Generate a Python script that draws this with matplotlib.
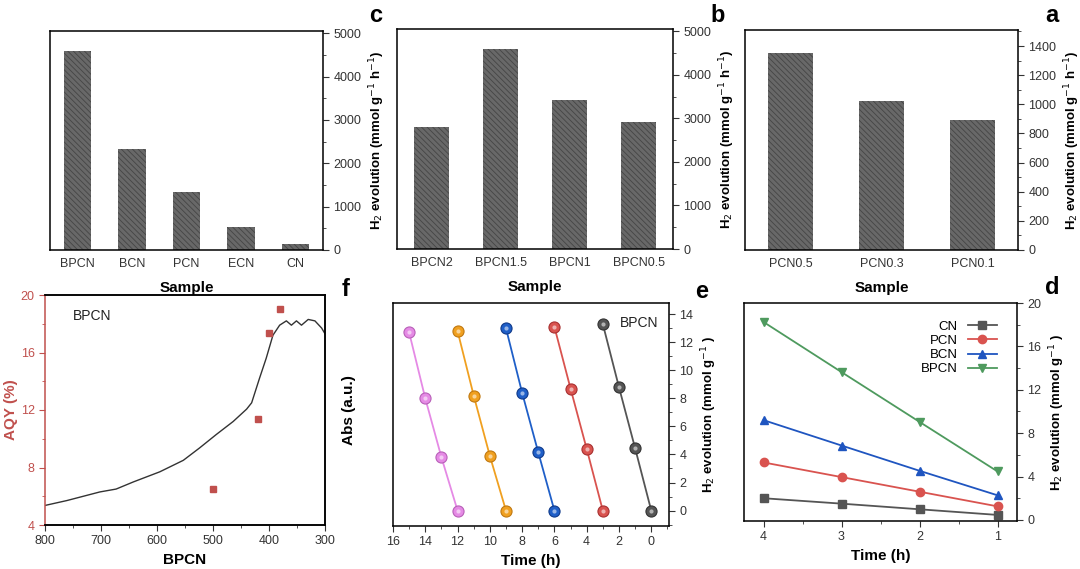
import matplotlib
matplotlib.use("Agg")
import matplotlib.pyplot as plt
from matplotlib.ticker import MultipleLocator
import numpy as np

plt.rcParams['font.family'] = ['Liberation Sans', 'DejaVu Sans']
plt.rcParams['hatch.linewidth'] = 0.6
plt.rcParams['axes.linewidth'] = 1.1

# ---------------- data ----------------
a_samples = ["PCN0.1", "PCN0.3", "PCN0.5"]
a_values = [892, 1023, 1352]

b_samples = ["BPCN0.5", "BPCN1", "BPCN1.5", "BPCN2"]
b_values = [2910, 3430, 4580, 2800]

c_samples = ["CN", "ECN", "PCN", "BCN", "BPCN"]
c_values = [140, 520, 1340, 2320, 4580]

d_time = [1, 2, 3, 4]
d_CN = [0.46, 0.98, 1.5, 2.0]
d_PCN = [1.25, 2.6, 3.95, 5.3]
d_BCN = [2.27, 4.53, 6.86, 9.2]
d_BPCN = [4.47, 9.04, 13.63, 18.25]

e_time_c1 = [0, 1, 2, 3]
e_time_c2 = [3, 4, 5, 6]
e_time_c3 = [6, 7, 8, 9]
e_time_c4 = [9, 10, 11, 12]
e_time_c5 = [12, 13, 14, 15]
e_h2_c1 = [0, 4.45, 8.8, 13.3]
e_h2_c2 = [0, 4.4, 8.7, 13.1]
e_h2_c3 = [0, 4.15, 8.4, 13.0]
e_h2_c4 = [0, 3.9, 8.2, 12.8]
e_h2_c5 = [0, 3.8, 8.0, 12.7]

f_wl = [800, 761, 702, 673, 642, 595, 553, 524, 494, 464, 440, 431, 417, 405,
        393, 381, 369, 360, 351, 342, 330, 318, 306, 300]
f_abs = [5.36, 5.7, 6.3, 6.5, 7.0, 7.7, 8.5, 9.36, 10.3, 11.2, 12.06, 12.5, 14.2,
         15.6, 17.2, 17.9, 18.2, 17.9, 18.2, 17.9, 18.3, 18.2, 17.7, 17.3]
f_aqy_wl = [500, 420, 400, 380]
f_aqy = [6.5, 11.4, 17.35, 19.06]

# ---------------- figure ----------------
fig = plt.figure(figsize=(10.8, 5.69), dpi=100)
W, H = 1080, 569

def ax_px(l, r, t, b):
    return fig.add_axes([l / W, 1 - b / H, (r - l) / W, (b - t) / H])

TICK_FS = 9
LAB_FS = 11
YLAB_FS = 9.5
YLAB = r"H$_2$ evolution (mmol g$^{-1}$ h$^{-1}$)"

def right_axis(ax):
    ax.yaxis.tick_right()
    ax.yaxis.set_label_position("right")
    ax.tick_params(axis='both', which='both', direction='out', labelsize=TICK_FS,
                   colors='#333333')
    ax.tick_params(which='major', length=4)
    ax.tick_params(which='minor', length=2)

def bar_panel(ax, cats, vals, ymax, major, minor, letter, lx):
    x = np.arange(len(cats))
    ax.bar(x, vals, width=0.5, color='#686868', edgecolor='#454545',
           hatch='\\\\\\\\\\\\', linewidth=0)
    ax.set_xticks(x)
    ax.set_xticklabels(cats)
    ax.set_xlim(len(cats) - 0.5, -0.5)
    ax.set_ylim(0, ymax)
    ax.yaxis.set_major_locator(MultipleLocator(major))
    ax.yaxis.set_minor_locator(MultipleLocator(minor))
    right_axis(ax)
    ax.tick_params(axis='x', length=0, pad=6)
    ax.set_xlabel("Sample", fontsize=LAB_FS, fontweight='bold', labelpad=8)
    ax.set_ylabel(YLAB, fontsize=YLAB_FS, fontweight='bold', rotation=90,
                  labelpad=4)
    fig.text(lx / W, 1 - 15 / H, letter, fontsize=17, fontweight='bold',
             ha='center', va='center')

ax_c = ax_px(50, 323, 31, 250)
bar_panel(ax_c, c_samples, c_values, 5050, 1000, 500, "c", 376)
ax_b = ax_px(397, 673, 29, 249)
bar_panel(ax_b, b_samples, b_values, 5050, 1000, 500, "b", 718)
ax_a = ax_px(745, 1018, 30, 250)
bar_panel(ax_a, a_samples, a_values, 1510, 200, 100, "a", 1052)

# ---------------- panel d ----------------
ax_d = ax_px(744, 1017, 303, 521)
d_series = [("CN", d_CN, 's', '#555555'), ("PCN", d_PCN, 'o', '#d9534f'),
            ("BCN", d_BCN, '^', '#1f55c0'), ("BPCN", d_BPCN, 'v', '#4e9a5e')]
for name, vals, mk, col in d_series:
    ax_d.plot(d_time, vals, marker=mk, color=col, lw=1.3, ms=6, label=name)
ax_d.set_xlim(4.25, 0.75)
ax_d.set_ylim(-0.1, 20)
ax_d.xaxis.set_major_locator(MultipleLocator(1))
ax_d.xaxis.set_minor_locator(MultipleLocator(0.5))
ax_d.yaxis.set_major_locator(MultipleLocator(4))
ax_d.yaxis.set_minor_locator(MultipleLocator(2))
right_axis(ax_d)
ax_d.set_xlabel("Time (h)", fontsize=LAB_FS, fontweight='bold', labelpad=4)
ax_d.set_ylabel(r"H$_2$ evolution (mmol g$^{-1}$ )", fontsize=YLAB_FS,
                fontweight='bold', rotation=90, labelpad=4)
ax_d.legend(loc='upper right', frameon=False, markerfirst=False, fontsize=9.5,
            handlelength=2.2, labelspacing=0.15, borderaxespad=0.6,
            bbox_to_anchor=(0.975, 0.98))
fig.text(1052 / W, 1 - 288 / H, "d", fontsize=17, fontweight='bold',
         ha='center', va='center')

# ---------------- panel e ----------------
ax_e = ax_px(393, 669, 303, 526)
e_series = [(e_time_c1, e_h2_c1, '#555555', '#333333'),
            (e_time_c2, e_h2_c2, '#d9534f', '#a83030'),
            (e_time_c3, e_h2_c3, '#1f5fc8', '#103a8a'),
            (e_time_c4, e_h2_c4, '#f0a020', '#c07810'),
            (e_time_c5, e_h2_c5, '#e58ae5', '#b860b8')]
for t, h, col, ecol in e_series:
    ax_e.plot(t, h, color=col, lw=1.3, marker='o', ms=8, mfc=col, mec=ecol,
              mew=0.8)
    ax_e.plot(t, h, ls='none', marker='o', ms=3, mfc='white', mec='none',
              alpha=0.55)
ax_e.set_xlim(16, -1.1)
ax_e.set_ylim(-1.1, 14.8)
ax_e.xaxis.set_major_locator(MultipleLocator(2))
ax_e.xaxis.set_minor_locator(MultipleLocator(1))
ax_e.yaxis.set_major_locator(MultipleLocator(2))
ax_e.yaxis.set_minor_locator(MultipleLocator(1))
right_axis(ax_e)
ax_e.set_xlabel("Time (h)", fontsize=LAB_FS, fontweight='bold', labelpad=4)
ax_e.set_ylabel(r"H$_2$ evolution (mmol g$^{-1}$ )", fontsize=YLAB_FS,
                fontweight='bold', rotation=90, labelpad=4)
ax_e.text(0.96, 0.91, "BPCN", transform=ax_e.transAxes, fontsize=10,
          ha='right', va='center', color='#222222')
fig.text(702 / W, 1 - 292 / H, "e", fontsize=17, fontweight='bold',
         ha='center', va='center')

# ---------------- panel f ----------------
ax_f = ax_px(45, 325, 295, 525)
ax_f.plot(f_wl, f_abs, color='#333333', lw=1.0)
ax_f.plot(f_aqy_wl, f_aqy, ls='none', marker='s', ms=5, color='#c0504d')
ax_f.set_xlim(800, 300)
ax_f.set_ylim(4, 20)
ax_f.xaxis.set_major_locator(MultipleLocator(100))
ax_f.xaxis.set_minor_locator(MultipleLocator(50))
ax_f.yaxis.set_major_locator(MultipleLocator(4))
ax_f.yaxis.set_minor_locator(MultipleLocator(2))
ax_f.tick_params(axis='both', which='both', direction='out', labelsize=TICK_FS,
                 colors='#333333')
ax_f.tick_params(which='major', length=4)
ax_f.tick_params(which='minor', length=2)
ax_f.tick_params(axis='y', which='both', colors='#c0504d', labelcolor='#c0504d')
ax_f.spines['left'].set_color('#c0504d')
ax_f.set_ylabel("AQY (%)", fontsize=LAB_FS, fontweight='bold', color='#c0504d',
                rotation=90, labelpad=2)
ax_f.set_xlabel("BPCN", fontsize=LAB_FS, fontweight='bold', labelpad=4)
ax_f2 = ax_f.twinx()
ax_f2.set_ylim(4, 20)
ax_f2.set_yticks([])
ax_f2.spines['left'].set_visible(False)
ax_f2.set_ylabel("Abs (a.u.)", fontsize=LAB_FS, fontweight='bold', rotation=90,
                 labelpad=12)
ax_f.text(0.1, 0.91, "BPCN", transform=ax_f.transAxes, fontsize=10,
          ha='left', va='center', color='#222222')
fig.text(346 / W, 1 - 290 / H, "f", fontsize=17, fontweight='bold',
         ha='center', va='center')

fig.savefig("out.png", dpi=100)
